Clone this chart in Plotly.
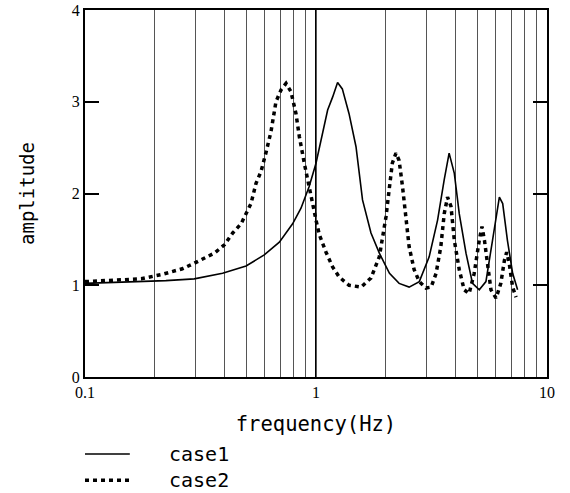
import plotly.graph_objects as go

# ---- data ----
freq1 = [0.1, 0.224, 0.297, 0.394, 0.498, 0.597, 0.694, 0.792, 0.861, 0.935, 1.0, 1.068,
         1.123, 1.18, 1.24, 1.30, 1.39, 1.49, 1.59, 1.73, 1.88, 2.08, 2.29, 2.53, 2.80,
         3.09, 3.36, 3.59, 3.77, 3.97, 4.17, 4.46, 4.76, 5.09, 5.44, 5.81, 6.22, 6.43,
         6.74, 7.10, 7.46]
amp1 = [1.02, 1.05, 1.07, 1.13, 1.21, 1.33, 1.47, 1.67, 1.84, 2.08, 2.33, 2.64,
        2.91, 3.05, 3.21, 3.14, 2.87, 2.51, 1.93, 1.57, 1.35, 1.13, 1.02, 0.98, 1.04,
        1.31, 1.71, 2.15, 2.44, 2.22, 1.78, 1.35, 1.02, 0.95, 1.04, 1.49, 1.96, 1.89,
        1.49, 1.13, 0.95]

freq2 = [0.1, 0.141, 0.175, 0.217, 0.264, 0.297, 0.363, 0.401, 0.436, 0.474, 0.498,
         0.523, 0.550, 0.578, 0.608, 0.638, 0.671, 0.706, 0.742, 0.779, 0.819, 0.847,
         0.890, 0.935, 0.967, 1.0, 1.034, 1.105, 1.18, 1.26, 1.39, 1.57, 1.73, 1.88,
         2.01, 2.08, 2.14, 2.22, 2.29, 2.37, 2.45, 2.53, 2.66, 2.80, 2.99, 3.15, 3.31,
         3.47, 3.59, 3.71, 3.84, 3.97, 4.17, 4.38, 4.60, 4.84, 5.09, 5.23, 5.36, 5.54,
         5.72, 6.02, 6.31, 6.54, 6.69, 6.86, 7.10, 7.34]
amp2 = [1.04, 1.06, 1.07, 1.12, 1.18, 1.24, 1.35, 1.44, 1.57, 1.67, 1.78,
        1.89, 2.11, 2.24, 2.45, 2.67, 3.00, 3.13, 3.20, 3.11, 2.87, 2.62,
        2.33, 2.09, 1.89, 1.71, 1.55, 1.36, 1.20, 1.09, 1.00, 0.98, 1.08, 1.31,
        1.75, 2.07, 2.33, 2.44, 2.36, 2.07, 1.75, 1.42, 1.17, 1.04, 0.97, 0.98, 1.13,
        1.42, 1.78, 1.96, 1.86, 1.49, 1.17, 0.95, 0.91, 1.13, 1.49, 1.64, 1.49, 1.20,
        0.95, 0.86, 1.02, 1.27, 1.36, 1.24, 0.98, 0.87]

series_names = ["case1", "case2"]
x_tickvals = [0.1, 0.2, 0.3, 0.4, 0.5, 0.6, 0.7, 0.8, 0.9, 1, 2, 3, 4, 5, 6, 7, 8, 9, 10]
x_ticktext = ["0.1", "", "", "", "", "", "", "", "", "1", "", "", "", "", "", "", "", "", "10"]
y_tickvals = [0, 1, 2, 3, 4]
y_ticktext = ["0", "1", "2", "3", "4"]

mono = "DejaVu Sans Mono"
serif = "Liberation Serif"

line_styles = [dict(color="black", width=1.6),
               dict(color="black", width=3.5, dash="4px,4px")]

fig = go.Figure()
fig.add_trace(go.Scatter(x=freq1, y=amp1, mode="lines", name=series_names[0],
                         line=line_styles[0], showlegend=False))
fig.add_trace(go.Scatter(x=freq2, y=amp2, mode="lines", name=series_names[1],
                         line=line_styles[1], showlegend=False))

# bold reference line at 1 Hz (middle of the log domain)
fig.add_shape(type="line", xref="x domain", yref="y domain", x0=0.5, x1=0.5, y0=0, y1=1,
              line=dict(color="black", width=2), layer="below")

# legend drawn below the plot (sample line + label)
legend_rows_y = [-0.21, -0.281]
for name, style, yy in zip(series_names, line_styles, legend_rows_y):
    fig.add_shape(type="line", xref="paper", yref="paper", x0=0.0, x1=0.097, y0=yy, y1=yy,
                  line=style)
    fig.add_annotation(xref="paper", yref="paper", x=0.178, y=yy, text=name,
                       showarrow=False, xanchor="left", yanchor="middle",
                       font=dict(family=mono, size=20, color="black"))

fig.update_layout(
    width=570, height=493,
    margin=dict(l=85, r=23, t=10, b=116),
    paper_bgcolor="white", plot_bgcolor="white",
    showlegend=False,
)
fig.update_xaxes(type="log", range=[-1, 1], automargin=False,
                 tickvals=x_tickvals, ticktext=x_ticktext, ticks="",
                 showgrid=True, gridcolor="#555555", gridwidth=1,
                 showline=True, linecolor="black", linewidth=2, mirror=True,
                 tickfont=dict(family=serif, size=16, color="black"),
                 title=dict(text="frequency(Hz)", font=dict(family=mono, size=20.5, color="black"),
                            standoff=16))
fig.update_yaxes(range=[0, 4], automargin=False, tickvals=y_tickvals, ticktext=y_ticktext,
                 ticks="inside", ticklen=14, tickwidth=2, tickcolor="black",
                 showgrid=False, zeroline=False,
                 showline=True, linecolor="black", linewidth=2, mirror="ticks",
                 tickfont=dict(family=serif, size=16, color="black"),
                 title=dict(text="amplitude", font=dict(family=mono, size=19, color="black"),
                            standoff=32))

fig.write_html("out.html", config={"displayModeBar": False},
               post_script="document.body.style.margin='0';")
